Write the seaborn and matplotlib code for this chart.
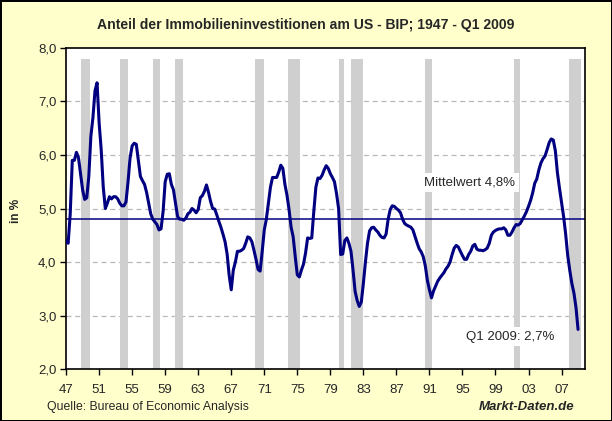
import numpy as np
import pandas as pd
import matplotlib
matplotlib.use("Agg")
import matplotlib.pyplot as plt
import seaborn as sns

# residential investment as share of US GDP, quarterly 1947Q1 - 2009Q1
share = [
    4.40, 4.35, 4.90, 5.90,   # 1947
    5.90, 6.05, 5.95, 5.65,   # 1948
    5.35, 5.17, 5.20, 5.60,   # 1949
    6.35, 6.70, 7.20, 7.35,   # 1950
    6.60, 6.10, 5.40, 5.00,   # 1951
    5.10, 5.22, 5.18, 5.22,   # 1952
    5.22, 5.18, 5.10, 5.05,   # 1953
    5.05, 5.12, 5.50, 5.95,   # 1954
    6.17, 6.22, 6.20, 5.90,   # 1955
    5.60, 5.52, 5.45, 5.30,   # 1956
    5.10, 4.90, 4.80, 4.75,   # 1957
    4.70, 4.60, 4.62, 4.95,   # 1958
    5.50, 5.64, 5.65, 5.45,   # 1959
    5.35, 5.10, 4.85, 4.80,   # 1960
    4.80, 4.78, 4.82, 4.90,   # 1961
    4.93, 5.00, 4.97, 4.92,   # 1962
    4.98, 5.20, 5.24, 5.32,   # 1963
    5.44, 5.30, 5.13, 5.00,   # 1964
    4.99, 4.88, 4.76, 4.65,   # 1965
    4.52, 4.38, 4.15, 3.75,   # 1966
    3.48, 3.85, 4.00, 4.20,   # 1967
    4.20, 4.22, 4.25, 4.35,   # 1968
    4.47, 4.45, 4.38, 4.22,   # 1969
    4.05, 3.86, 3.83, 4.20,   # 1970
    4.60, 4.80, 5.10, 5.40,   # 1971
    5.58, 5.58, 5.58, 5.68,   # 1972
    5.81, 5.75, 5.45, 5.25,   # 1973
    4.98, 4.65, 4.47, 4.10,   # 1974
    3.76, 3.72, 3.85, 3.96,   # 1975
    4.17, 4.45, 4.44, 4.45,   # 1976
    4.95, 5.40, 5.57, 5.56,   # 1977
    5.62, 5.72, 5.80, 5.75,   # 1978
    5.65, 5.58, 5.50, 5.28,   # 1979
    5.00, 4.14, 4.15, 4.40,   # 1980
    4.45, 4.35, 4.20, 3.85,   # 1981
    3.45, 3.28, 3.17, 3.25,   # 1982
    3.60, 4.00, 4.35, 4.58,   # 1983
    4.64, 4.65, 4.60, 4.56,   # 1984
    4.50, 4.46, 4.45, 4.52,   # 1985
    4.80, 4.98, 5.05, 5.04,   # 1986
    5.00, 4.97, 4.92, 4.80,   # 1987
    4.72, 4.69, 4.67, 4.65,   # 1988
    4.60, 4.48, 4.36, 4.25,   # 1989
    4.19, 4.10, 3.93, 3.66,   # 1990
    3.48, 3.33, 3.46, 3.55,   # 1991
    3.64, 3.70, 3.75, 3.80,   # 1992
    3.87, 3.92, 4.00, 4.14,   # 1993
    4.26, 4.31, 4.28, 4.20,   # 1994
    4.12, 4.05, 4.05, 4.14,   # 1995
    4.20, 4.30, 4.33, 4.24,   # 1996
    4.22, 4.22, 4.21, 4.23,   # 1997
    4.26, 4.35, 4.50, 4.56,   # 1998
    4.59, 4.61, 4.62, 4.62,   # 1999
    4.64, 4.60, 4.50, 4.50,   # 2000
    4.56, 4.64, 4.70, 4.69,   # 2001
    4.72, 4.79, 4.86, 4.94,   # 2002
    5.04, 5.15, 5.29, 5.47,   # 2003
    5.55, 5.72, 5.85, 5.93,   # 2004
    5.98, 6.10, 6.23, 6.30,   # 2005
    6.28, 6.08, 5.67, 5.38,   # 2006
    5.12, 4.85, 4.52, 4.12,   # 2007
    3.84, 3.60, 3.42, 3.15,   # 2008
    2.74,                     # 2009 Q1
]
quarter_pos = [1947 + i / 4 for i in range(len(share))]

# NBER recessions (decimal years, as drawn)
rec_start = [1948.8, 1953.55, 1957.55, 1960.2, 1969.9, 1973.9, 1980.05, 1981.5, 1990.45, 2001.2, 2007.9]
rec_end = [1949.9, 1954.45, 1958.4, 1961.15, 1970.95, 1975.3, 1980.65, 1982.95, 1991.3, 2001.95, 2009.35]

mean_share = 4.8
tick_years = list(range(1947, 2008, 4))
tick_labels = [f"{y % 100:02d}" for y in tick_years]

df = pd.DataFrame({"year": quarter_pos, "share": share})

sns.set_style("white")
plt.rcParams["font.family"] = ["Liberation Sans", "DejaVu Sans"]

bg = "#ffffcc"
fig = plt.figure(figsize=(6.12, 4.21), dpi=100, facecolor=bg, edgecolor="black", linewidth=2)
ax = fig.add_axes([0.108, 0.1235, 0.848, 0.7625])
ax.set_facecolor("white")

for s, e in zip(rec_start, rec_end):
    ax.axvspan(s, e, ymin=0, ymax=(7.8 - 2) / 6, color="#cfcfcf", lw=0, zorder=1)

for yv in [3, 4, 5, 6, 7]:
    ax.axhline(yv, color="#b8b8b8", lw=0.9, ls=(0, (4, 3)), zorder=0.5)

ax.axhline(mean_share, color="#000080", lw=1.1, zorder=2)

sns.lineplot(data=df, x="year", y="share", ax=ax, color="#000080", linewidth=2.2, zorder=3)

ax.set_xlim(1947, 2009.85)
ax.set_ylim(2, 8)
ax.set_xticks(tick_years)
ax.set_xticklabels(tick_labels)
ax.set_yticks(range(2, 9))
ax.set_yticklabels([f"{v},0" for v in range(2, 9)])
ax.tick_params(axis="both", direction="out", length=4, width=1, color="black",
               labelsize=9.5, pad=3, bottom=True, left=True)
ax.tick_params(axis="x", pad=7)
for sp in ax.spines.values():
    sp.set_color("black")
    sp.set_linewidth(1.2)
ax.set_xlabel("")
ax.set_ylabel("")

ax.text(1990.4, 5.48, "Mittelwert 4,8%", fontsize=9.5, va="center", ha="left",
        bbox=dict(facecolor="white", edgecolor="none", pad=2.5), zorder=4)
ax.text(1995.4, 2.6, "Q1 2009: 2,7%", fontsize=9.5, va="center", ha="left",
        bbox=dict(facecolor="white", edgecolor="none", pad=2.5), zorder=4)

fig.text(0.5, 0.94, "Anteil der Immobilieninvestitionen am US - BIP; 1947 - Q1 2009",
         ha="center", va="center", fontsize=10.1, fontweight="bold")
fig.text(0.026, 0.5, "in %", rotation=90, ha="center", va="center", fontsize=8.5,
         fontweight="bold")
fig.text(0.077, 0.034, "Quelle: Bureau of Economic Analysis", ha="left", va="center", fontsize=8.8)
fig.text(0.938, 0.034, "Markt-Daten.de", ha="right", va="center", fontsize=9.5,
         fontweight="bold", fontstyle="italic")

fig.savefig("out.png", dpi=100, facecolor=bg, edgecolor="black")
